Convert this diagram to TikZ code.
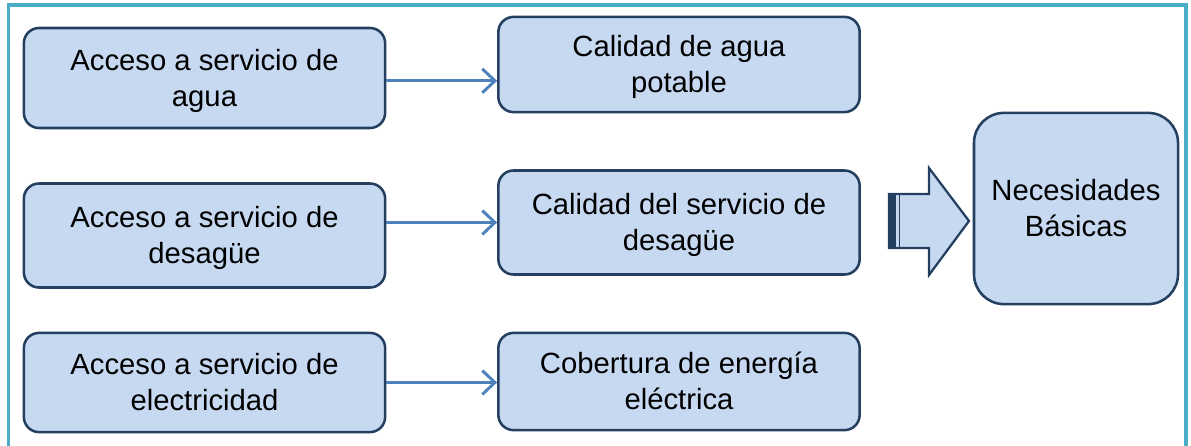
\documentclass[tikz,border=0pt]{standalone}
\usepackage{fontspec}
\setmainfont{Liberation Sans}
\usepackage{tikz}
\usetikzlibrary{arrows.meta}

\definecolor{boxfill}{RGB}{198,217,241}
\definecolor{boxline}{RGB}{36,63,96}
\definecolor{arrline}{RGB}{79,129,189}
\definecolor{frameline}{RGB}{75,172,198}

\begin{document}
\begin{tikzpicture}[x=0.025cm,y=-0.025cm]
          \tikzstyle{main} = [rectangle, rounded corners=0.38cm, draw=boxline, line width=1.8pt, fill=boxfill, align=center, font=\fontsize{20.8}{25.8}\selectfont, text height=45.5pt, text depth=5pt, minimum width=9.03cm, inner sep=0pt]
          \tikzstyle{goal} = [main, rounded corners=0.75cm, minimum width=5.1cm, minimum height=4.78cm]
          \tikzstyle{link} = [draw=arrline, line width=2.1pt, -{Straight Barb[length=9pt,width=17pt,line width=2.1pt]}]
        \useasboundingbox (0,0) rectangle (1191,446);
        % marco
        \draw[frameline, line width=2.2pt] (8.5,446) -- (8.5,5) -- (1186,5) -- (1186,446);
        \node[main, minimum height=2.5cm] (1) at (204.5,78) {Acceso a servicio de\\agua};
        \node[main, minimum height=2.6cm] (2) at (204.5,235.5) {Acceso a servicio de\\desagüe};
        \node[main, minimum height=2.48cm] (3) at (204.5,382.5) {Acceso a servicio de\\electricidad};
        \node[main, minimum height=2.38cm] (4) at (679,64.5) {Calidad de agua\\potable};
        \node[main, minimum height=2.6cm] (5) at (679,222.5) {Calidad del servicio de\\desagüe};
        \node[main, minimum height=2.43cm] (6) at (679,381.5) {Cobertura de energía\\eléctrica};
        \node[goal] (7) at (1076,208.5) {Necesidades\\Básicas};
        \begin{scope}
          \draw[link] ([yshift=-2pt]1.east) -- ([yshift=-2pt]1.east -| 4.west);
          \draw[link] (5.west -| 2.east) -- (5.west);
          \draw[link] (3.east) -- (3.east -| 6.west);
        \end{scope}
        % flecha de bloque
        \draw[boxline, line width=1.6pt, fill=boxfill, line join=miter]
          (889,194) -- (929,194) -- (929,168) -- (969,221) -- (929,275) -- (929,248) -- (889,248) -- cycle;
        \fill[boxline] (889,194) rectangle (896,248);
        \draw[boxline, line width=1.4pt] (899.5,194) -- (899.5,248);
      \end{tikzpicture}
\end{document}
